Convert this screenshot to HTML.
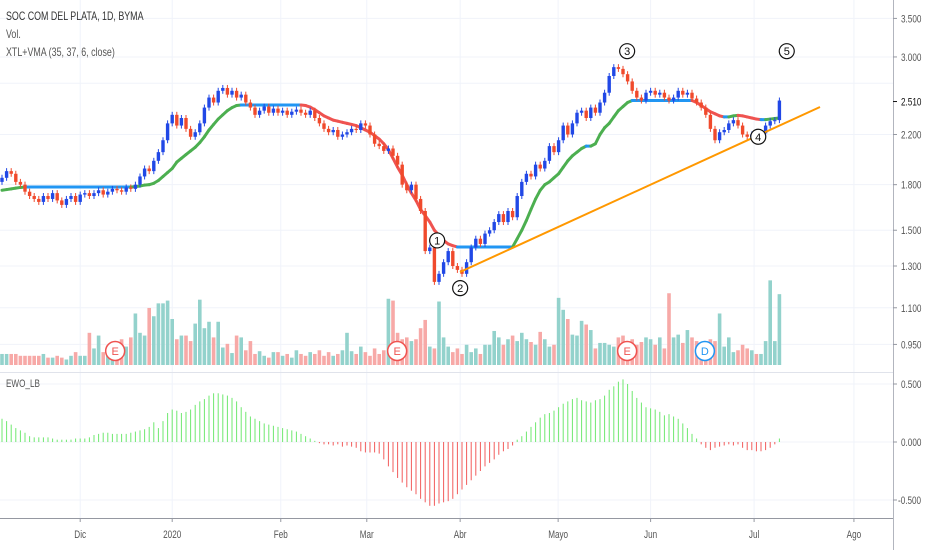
<!DOCTYPE html>
<html><head><meta charset="utf-8">
<style>
html,body{margin:0;padding:0;background:#fff;}
svg{display:block;font-family:"Liberation Sans",sans-serif;}
</style></head>
<body>
<svg id="chart" width="932" height="550" viewBox="0 0 932 550">
  <g id="grid"></g>
  <g id="volume"></g>
  <g id="vma"></g>
  <g id="candles"></g>
  <line x1="460" y1="272" x2="820" y2="107" stroke="#ff9800" stroke-width="2"/>
  <g id="ewo"></g>
  <g id="marks"></g>
  <g id="axes"></g>
  <text class="cond" x="6" y="20" font-size="12" fill="#333">SOC COM DEL PLATA, 1D, BYMA</text>
  <text class="cond" x="6" y="38" font-size="12" fill="#555">Vol.</text>
  <text class="cond" x="6" y="56" font-size="12" fill="#555">XTL+VMA (35, 37, 6, close)</text>
  <text class="cond" x="6" y="387" font-size="11" fill="#555">EWO_LB</text>
</svg>
<script>
const closes=[1.85,1.90,1.88,1.82,1.80,1.75,1.72,1.70,1.68,1.72,1.70,1.74,1.69,1.66,1.70,1.72,1.68,1.73,1.74,1.72,
1.74,1.76,1.73,1.75,1.77,1.76,1.75,1.78,1.77,1.80,1.86,1.92,1.90,1.98,2.05,2.15,2.30,2.38,2.28,2.35,
2.25,2.18,2.22,2.30,2.45,2.55,2.50,2.62,2.65,2.58,2.62,2.55,2.58,2.50,2.45,2.38,2.42,2.46,2.40,2.44,
2.40,2.42,2.38,2.41,2.43,2.40,2.38,2.42,2.35,2.30,2.25,2.22,2.24,2.18,2.20,2.22,2.25,2.24,2.30,2.28,
2.20,2.12,2.10,2.06,2.08,2.02,1.95,1.80,1.76,1.80,1.70,1.62,1.38,1.40,1.22,1.26,1.32,1.38,1.30,1.28,
1.26,1.32,1.40,1.45,1.42,1.48,1.50,1.55,1.60,1.55,1.62,1.58,1.72,1.82,1.88,1.86,1.95,1.92,1.98,2.10,
2.05,2.15,2.28,2.20,2.30,2.40,2.42,2.35,2.45,2.40,2.50,2.60,2.78,2.88,2.86,2.80,2.72,2.62,2.55,2.52,
2.60,2.62,2.58,2.60,2.55,2.52,2.55,2.62,2.58,2.60,2.54,2.50,2.45,2.38,2.25,2.15,2.22,2.24,2.30,2.33,
2.28,2.20,2.18,2.20,2.17,2.21,2.28,2.32,2.33,2.52];
const opens=[1.82,1.85,1.90,1.88,1.82,1.80,1.75,1.72,1.70,1.68,1.72,1.70,1.74,1.69,1.66,1.70,1.72,1.68,1.73,1.74,
1.72,1.74,1.76,1.73,1.75,1.77,1.76,1.75,1.78,1.77,1.80,1.86,1.92,1.90,1.98,2.05,2.15,2.30,2.38,2.28,
2.35,2.25,2.18,2.22,2.30,2.45,2.55,2.50,2.62,2.65,2.58,2.62,2.55,2.58,2.50,2.45,2.38,2.42,2.46,2.40,
2.44,2.40,2.42,2.38,2.41,2.43,2.40,2.38,2.42,2.35,2.30,2.25,2.22,2.24,2.18,2.20,2.22,2.25,2.24,2.30,
2.28,2.20,2.12,2.10,2.06,2.08,2.02,1.95,1.80,1.76,1.80,1.70,1.62,1.38,1.40,1.22,1.26,1.32,1.38,1.30,
1.28,1.26,1.32,1.40,1.45,1.42,1.48,1.50,1.55,1.60,1.55,1.62,1.58,1.72,1.82,1.88,1.86,1.95,1.92,1.98,
2.10,2.05,2.15,2.28,2.20,2.30,2.40,2.42,2.35,2.45,2.40,2.50,2.60,2.78,2.88,2.86,2.80,2.72,2.62,2.55,
2.52,2.60,2.62,2.58,2.60,2.55,2.52,2.55,2.62,2.58,2.60,2.54,2.50,2.45,2.38,2.25,2.15,2.22,2.24,2.30,
2.33,2.28,2.20,2.18,2.20,2.17,2.21,2.28,2.32,2.33];
const vma=[1.76,1.765,1.77,1.775,1.78,1.783,1.783,1.783,1.783,1.783,1.783,1.783,1.783,1.783,1.783,1.783,1.783,1.783,1.783,1.783,
1.783,1.783,1.783,1.783,1.783,1.783,1.783,1.783,1.783,1.786,1.79,1.797,1.80,1.81,1.83,1.86,1.89,1.92,1.97,2.00,
2.03,2.06,2.09,2.13,2.18,2.24,2.29,2.34,2.38,2.42,2.45,2.47,2.475,2.475,2.475,2.475,2.475,2.475,2.475,2.475,
2.475,2.475,2.475,2.475,2.475,2.475,2.47,2.455,2.43,2.40,2.37,2.35,2.33,2.32,2.31,2.30,2.29,2.28,2.26,2.24,
2.22,2.19,2.16,2.12,2.07,2.00,1.93,1.87,1.80,1.74,1.69,1.63,1.59,1.55,1.50,1.47,1.44,1.42,1.41,1.403,
1.403,1.403,1.403,1.403,1.403,1.403,1.403,1.403,1.403,1.403,1.403,1.403,1.45,1.50,1.56,1.63,1.70,1.76,1.80,1.82,
1.85,1.88,1.93,1.98,2.02,2.05,2.08,2.10,2.10,2.12,2.20,2.26,2.30,2.36,2.42,2.46,2.50,2.52,2.52,2.52,
2.52,2.52,2.52,2.52,2.52,2.52,2.52,2.52,2.52,2.52,2.52,2.50,2.47,2.44,2.41,2.39,2.37,2.36,2.36,2.37,
2.375,2.37,2.36,2.35,2.34,2.335,2.335,2.34,2.345,2.35];
const volumes=[12,12,12,12,10,10,10,10,10,12,8,8,10,8,6,10,14,10,10,35,
18,32,14,16,12,10,28,20,30,56,35,32,62,53,67,67,70,50,28,32,
32,26,45,71,40,47,30,47,19,23,13,32,30,16,26,12,15,10,8,14,
14,10,12,8,16,12,10,14,12,16,10,14,10,12,16,35,15,12,20,14,
10,18,12,16,72,70,35,28,30,26,28,40,49,20,18,69,30,20,14,18,
12,22,14,18,12,22,22,37,30,22,28,32,26,35,28,25,22,36,28,20,
22,73,60,50,33,32,48,44,38,18,24,24,22,20,30,32,20,28,22,25,
30,28,22,30,18,78,30,33,24,38,30,26,24,26,28,26,56,20,30,14,
16,22,18,16,12,12,26,92,26,77];
const ewo=[0.20,0.18,0.15,0.12,0.10,0.08,0.05,0.04,0.04,0.04,0.04,0.03,0.02,0.02,0.02,0.02,0.03,0.03,0.03,0.04,
0.06,0.07,0.08,0.08,0.07,0.07,0.07,0.07,0.08,0.09,0.10,0.11,0.13,0.17,0.12,0.18,0.25,0.28,0.27,0.25,
0.26,0.28,0.32,0.35,0.37,0.40,0.42,0.42,0.41,0.40,0.38,0.35,0.30,0.26,0.22,0.20,0.18,0.16,0.15,0.14,
0.13,0.12,0.11,0.10,0.09,0.07,0.05,0.03,0.01,-0.01,-0.02,-0.02,-0.03,-0.02,-0.04,-0.03,-0.04,-0.05,-0.08,-0.09,
-0.09,-0.09,-0.10,-0.15,-0.21,-0.26,-0.31,-0.35,-0.39,-0.42,-0.45,-0.49,-0.52,-0.55,-0.55,-0.53,-0.52,-0.51,-0.49,-0.45,
-0.41,-0.37,-0.33,-0.29,-0.25,-0.21,-0.18,-0.15,-0.11,-0.08,-0.06,-0.03,0.02,0.05,0.09,0.13,0.17,0.21,0.24,0.25,
0.27,0.30,0.33,0.35,0.37,0.38,0.36,0.35,0.34,0.36,0.37,0.40,0.45,0.48,0.52,0.54,0.50,0.44,0.38,0.34,
0.30,0.29,0.28,0.26,0.23,0.24,0.22,0.20,0.16,0.12,0.07,0.03,-0.02,-0.05,-0.07,-0.05,-0.04,-0.03,-0.02,-0.03,
-0.02,-0.05,-0.07,-0.07,-0.08,-0.08,-0.07,-0.05,-0.02,0.03];
const priceTicks=[3.5,3.0,2.2,1.8,1.5,1.3,1.1,0.95];
const priceTickLabels=["3.500","3.000","2.200","1.800","1.500","1.300","1.100","0.950"];
const lastPrice=2.51;
const ewoTicks=[0.5,0,-0.5];
const ewoTickLabels=["0.500","0.000","-0.500"];
const monthLabels=["Dic","2020","Feb","Mar","Abr","Mayo","Jun","Jul","Ago"];
const monthBarIdx=[17,37,60.6,79.3,99.6,120.9,141,163.5,185.2];
const waveLabels=["1","2","3","4","5"];
const waveBarIdx=[94.6,99.6,135.9,164.4,170.6];
const wavePrice=[1.44,1.19,3.07,2.18,3.07];
const events=["E","E","E","D"];
const eventBarIdx=[24.6,85.9,135.9,152.8];

const NS="http://www.w3.org/2000/svg";
function mk(tag,attrs,parent){const e=document.createElementNS(NS,tag);for(const k in attrs)e.setAttribute(k,attrs[k]);parent.appendChild(e);return e;}
const X=i=>2+4.6*i;
const Y=p=>331.6-250*Math.log(p);
const VOLBASE=365, volScale=0.92;
const EY=v=>442-116*v;

const grid=document.getElementById('grid');
priceTicks.forEach(p=>{const l=mk('line',{x1:0,x2:893,y1:Y(p),y2:Y(p),stroke:'#f0f3fa','stroke-width':1},grid);

});
mk('line',{x1:0,x2:893,y1:Y(2.7),y2:Y(2.7),stroke:'#f0f3fa'},grid);
ewoTicks.forEach(v=>{const l=mk('line',{x1:0,x2:893,y1:EY(v),y2:EY(v),stroke:'#f0f3fa'},grid);

});
monthBarIdx.forEach(i=>{const l=mk('line',{x1:X(i),x2:X(i),y1:0,y2:518,stroke:'#f0f3fa'},grid);

});

const vg=document.getElementById('volume');
volumes.forEach((v,i)=>{const up=closes[i]>=opens[i];const h=v*volScale;
const r=mk('rect',{x:X(i)-1.8,y:VOLBASE-h,width:3.6,height:h,fill:up?'#93d2cc':'#f7a9a7'},vg);

});

const mg=document.getElementById('vma');
for(let i=1;i<vma.length;i++){const d=vma[i]-vma[i-1];
const col=Math.abs(d)<0.002?'#2196f3':(d>0?'#4caf50':'#ef5350');
const s=mk('line',{x1:X(i-1),y1:Y(vma[i-1]),x2:X(i),y2:Y(vma[i]),stroke:col,'stroke-width':3,'stroke-linecap':'round'},mg);

}

const cg=document.getElementById('candles');
closes.forEach((c,i)=>{const o=opens[i];const up=c>=o;const col=up?'#2148e6':'#f04a2c';
const top=Y(Math.max(o,c)),bot=Y(Math.min(o,c));
const w=mk('line',{x1:X(i),x2:X(i),y1:top-3,y2:bot+3,stroke:col,'stroke-width':1},cg);


const b=mk('rect',{x:X(i)-1.7,y:top,width:3.4,height:Math.max(1,bot-top),fill:col},cg);

});

const eg=document.getElementById('ewo');
ewo.forEach((v,i)=>{const l=mk('line',{x1:X(i),x2:X(i),y1:EY(0),y2:EY(v),stroke:v>=0?'#6fe86f':'#f25c5c','stroke-width':1},eg);

});

const wg=document.getElementById('marks');
waveLabels.forEach((t,k)=>{const cx=X(waveBarIdx[k]),cy=Y(wavePrice[k]);
const c=mk('circle',{cx:cx,cy:cy,r:7.5,fill:'#fff',stroke:'#111','stroke-width':1.2},wg);


const tx=mk('text',{x:cx,y:cy+4,'font-size':11,'text-anchor':'middle',fill:'#111'},wg);tx.textContent=t;

});
events.forEach((t,k)=>{const cx=X(eventBarIdx[k]),cy=351;const col=t==='D'?'#2196f3':'#ef5350';
const c=mk('circle',{cx:cx,cy:cy,r:9.5,fill:'#fff',stroke:col,'stroke-width':1.5},wg);


const tx=mk('text',{x:cx,y:cy+4,'font-size':11,'text-anchor':'middle',fill:col},wg);tx.textContent=t;

});

const ag=document.getElementById('axes');
mk('line',{x1:893.5,x2:893.5,y1:0,y2:550,stroke:'#b2b5be'},ag);
mk('line',{x1:0,x2:893,y1:372.5,y2:372.5,stroke:'#e0e3eb'},ag);
mk('line',{x1:0,x2:893,y1:518.5,y2:518.5,stroke:'#9598a1'},ag);
priceTicks.forEach((p,k)=>{mk('line',{x1:893,x2:897,y1:Y(p),y2:Y(p),stroke:'#9598a1'},ag);
const t=mk('text',{x:901,y:Y(p)+4,'font-size':11,fill:'#555','class':'cond'},ag);t.textContent=priceTickLabels[k];

});
mk('line',{x1:893,x2:897,y1:Y(lastPrice),y2:Y(lastPrice),stroke:'#111'},ag);
const lp=mk('text',{x:901,y:Y(lastPrice)+4,'font-size':11,fill:'#111','class':'cond'},ag);lp.textContent=lastPrice.toFixed(3);


ewoTicks.forEach((v,k)=>{mk('line',{x1:893,x2:897,y1:EY(v),y2:EY(v),stroke:'#9598a1'},ag);
const t=mk('text',{x:v<0?898:901,y:EY(v)+4,'font-size':11,fill:'#555','class':'cond'},ag);t.textContent=ewoTickLabels[k];

});
monthLabels.forEach((m,k)=>{const x=X(monthBarIdx[k]);mk('line',{x1:x,x2:x,y1:518,y2:522,stroke:'#9598a1'},ag);
const t=mk('text',{x:x,y:538,'font-size':11,'text-anchor':'middle',fill:'#555','class':'cond'},ag);t.textContent=m;

});

document.querySelectorAll('text.cond').forEach(t=>{const L=t.getComputedTextLength();
t.setAttribute('textLength',(L*0.74).toFixed(1));t.setAttribute('lengthAdjust','spacingAndGlyphs');});
</script>
</body></html>
